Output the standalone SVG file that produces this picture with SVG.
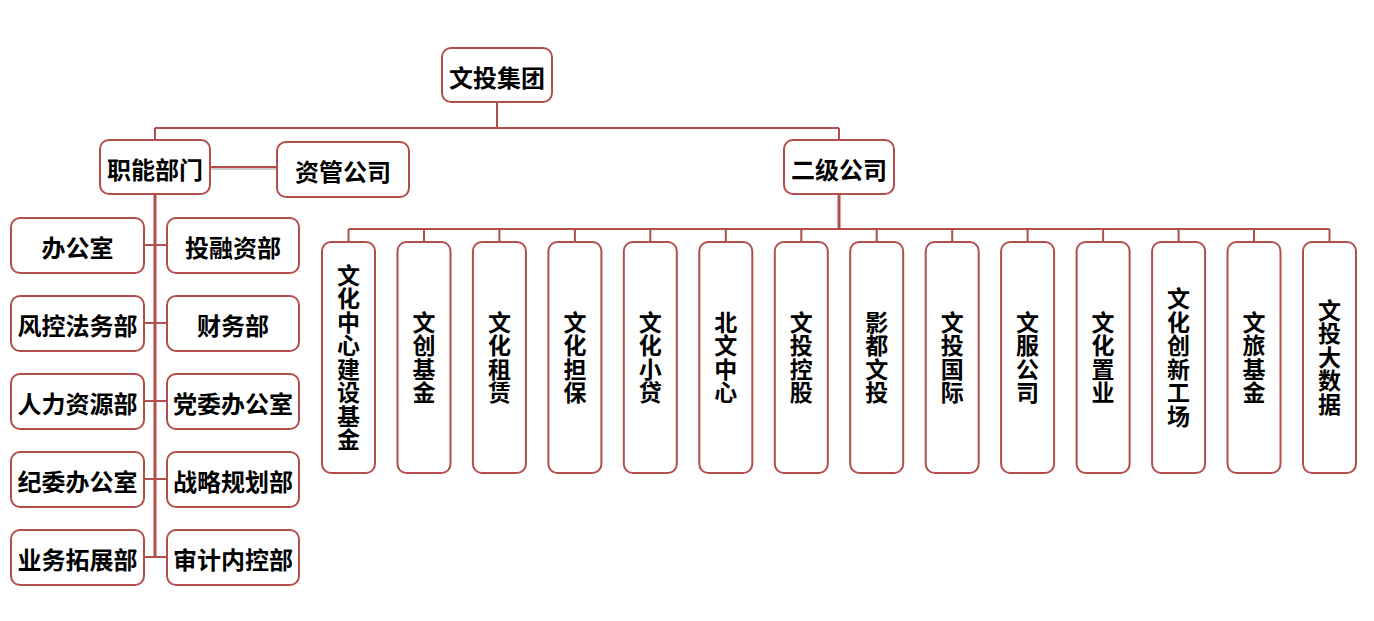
<svg xmlns="http://www.w3.org/2000/svg" width="1374" height="621" viewBox="0 0 1374 621">
<style>
.box{fill:#fff;stroke:#B24E4B;stroke-width:2}
.ln{fill:none;stroke:#B24E4B;stroke-width:2}
.lt{fill:none;stroke:#B24E4B;stroke-width:3}
.t{font-family:"Noto Sans CJK SC","Noto Sans CJK JP",sans-serif;font-weight:bold;font-size:24px;fill:#000;text-anchor:middle;dominant-baseline:central}
.v{font-family:"Noto Sans CJK SC","Noto Sans CJK JP",sans-serif;font-weight:bold;font-size:23px;letter-spacing:0.5px;fill:#000;text-anchor:middle;writing-mode:vertical-rl;text-orientation:upright}
</style>
<rect width="1374" height="621" fill="#fff"/>
<g id="connectors">
<path class="ln" d="M497,102V128M155,128H839M155,128V140M839,128V140"/>
<line x1="210" y1="169" x2="277" y2="169" stroke="#ccc" stroke-width="2"/>
<path class="ln" d="M210,167H277"/>
<path class="lt" d="M155,194V558"/>
<path class="ln" d="M143,245H167M143,323H167M143,401H167M143,479H167M143,557H167"/>
<path class="lt" d="M839,194V229"/>
<path class="ln" d="M348.5,229H1329.5"/>
<path class="ln" d="M348.5,229V242M424,229V242M499.4,229V242M574.9,229V242M650.3,229V242M725.8,229V242M801.3,229V242M876.7,229V242M952.2,229V242M1027.6,229V242M1103.1,229V242M1178.6,229V242M1254,229V242M1329.5,229V242"/>
</g>
<g id="n-root"><rect class="box" x="442" y="48" width="110" height="54" rx="9"/><text class="t" x="497" y="76">文投集团</text></g>
<g id="n-zhineng"><rect class="box" x="100" y="140" width="110" height="54" rx="9"/><text class="t" x="155" y="168">职能部门</text></g>
<g id="n-ziguan"><rect class="box" x="277" y="142" width="132" height="55" rx="9"/><text class="t" x="343" y="170">资管公司</text></g>
<g id="n-erji"><rect class="box" x="784" y="140" width="110" height="54" rx="9"/><text class="t" x="839" y="168">二级公司</text></g>
<g id="n-bgs"><rect class="box" x="11" y="218" width="133" height="55" rx="9"/><text class="t" x="77.5" y="246">办公室</text></g>
<g id="n-trz"><rect class="box" x="167" y="218" width="132" height="55" rx="9"/><text class="t" x="233" y="246">投融资部</text></g>
<g id="n-fk"><rect class="box" x="11" y="296" width="133" height="55" rx="9"/><text class="t" x="77.5" y="324">风控法务部</text></g>
<g id="n-cw"><rect class="box" x="167" y="296" width="132" height="55" rx="9"/><text class="t" x="233" y="324">财务部</text></g>
<g id="n-rl"><rect class="box" x="11" y="374" width="133" height="55" rx="9"/><text class="t" x="77.5" y="402">人力资源部</text></g>
<g id="n-dw"><rect class="box" x="167" y="374" width="132" height="55" rx="9"/><text class="t" x="233" y="402">党委办公室</text></g>
<g id="n-jw"><rect class="box" x="11" y="452" width="133" height="55" rx="9"/><text class="t" x="77.5" y="480">纪委办公室</text></g>
<g id="n-zl"><rect class="box" x="167" y="452" width="132" height="55" rx="9"/><text class="t" x="233" y="480">战略规划部</text></g>
<g id="n-yw"><rect class="box" x="11" y="530" width="133" height="55" rx="9"/><text class="t" x="77.5" y="558">业务拓展部</text></g>
<g id="n-sj"><rect class="box" x="167" y="530" width="132" height="55" rx="9"/><text class="t" x="233" y="558">审计内控部</text></g>
<g id="s1"><rect class="box" x="322" y="242" width="53" height="231" rx="9"/><text class="v" x="348.5" y="357.5">文化中心建设基金</text></g>
<g id="s2"><rect class="box" x="397.5" y="242" width="53" height="231" rx="9"/><text class="v" x="424" y="357.5">文创基金</text></g>
<g id="s3"><rect class="box" x="472.9" y="242" width="53" height="231" rx="9"/><text class="v" x="499.4" y="357.5">文化租赁</text></g>
<g id="s4"><rect class="box" x="548.4" y="242" width="53" height="231" rx="9"/><text class="v" x="574.9" y="357.5">文化担保</text></g>
<g id="s5"><rect class="box" x="623.8" y="242" width="53" height="231" rx="9"/><text class="v" x="650.3" y="357.5">文化小贷</text></g>
<g id="s6"><rect class="box" x="699.3" y="242" width="53" height="231" rx="9"/><text class="v" x="725.8" y="357.5">北文中心</text></g>
<g id="s7"><rect class="box" x="774.8" y="242" width="53" height="231" rx="9"/><text class="v" x="801.3" y="357.5">文投控股</text></g>
<g id="s8"><rect class="box" x="850.2" y="242" width="53" height="231" rx="9"/><text class="v" x="876.7" y="357.5">影都文投</text></g>
<g id="s9"><rect class="box" x="925.7" y="242" width="53" height="231" rx="9"/><text class="v" x="952.2" y="357.5">文投国际</text></g>
<g id="s10"><rect class="box" x="1001.1" y="242" width="53" height="231" rx="9"/><text class="v" x="1027.6" y="357.5">文服公司</text></g>
<g id="s11"><rect class="box" x="1076.6" y="242" width="53" height="231" rx="9"/><text class="v" x="1103.1" y="357.5">文化置业</text></g>
<g id="s12"><rect class="box" x="1152.1" y="242" width="53" height="231" rx="9"/><text class="v" x="1178.6" y="357.5">文化创新工场</text></g>
<g id="s13"><rect class="box" x="1227.5" y="242" width="53" height="231" rx="9"/><text class="v" x="1254" y="357.5">文旅基金</text></g>
<g id="s14"><rect class="box" x="1303" y="242" width="53" height="231" rx="9"/><text class="v" x="1329.5" y="357.5">文投大数据</text></g>
</svg>
